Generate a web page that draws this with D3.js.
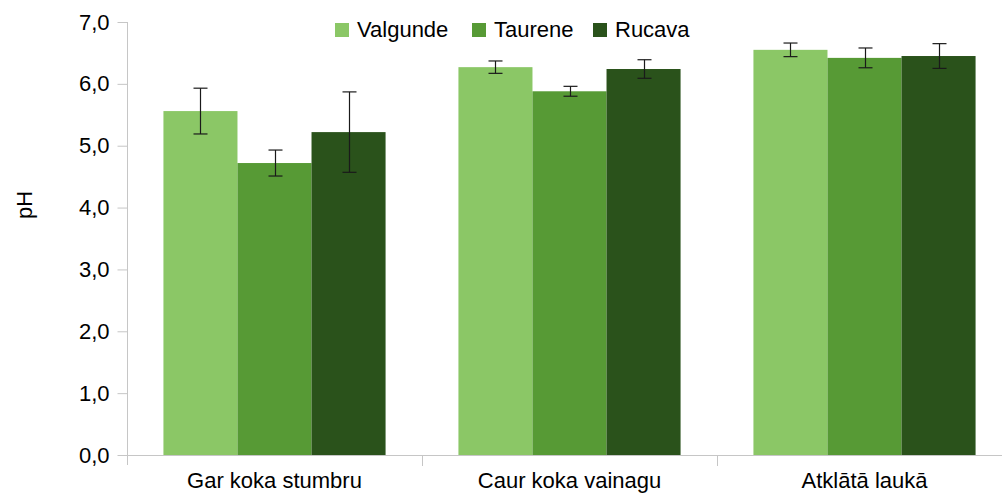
<!DOCTYPE html>
<html><head><meta charset="utf-8">
<script src="https://cdn.jsdelivr.net/npm/d3@7"></script>
<style>
body{margin:0;background:#fff;}
svg{display:block;font-family:"Liberation Sans",Arial,sans-serif;}
</style></head>
<body><svg id="c" width="1002" height="495"></svg>
<script>
const categories = ["Gar koka stumbru", "Caur koka vainagu", "Atklātā laukā"];
const seriesNames = ["Valgunde", "Taurene", "Rucava"];
const seriesColors = ["#8bc766", "#579a35", "#2a521b"];
const valgunde = [5.56, 6.27, 6.55];
const taurene = [4.72, 5.88, 6.42];
const rucava = [5.22, 6.24, 6.45];
const valgundeErr = [0.37, 0.10, 0.11];
const taureneErr = [0.21, 0.08, 0.16];
const rucavaErr = [0.65, 0.15, 0.20];
const yTicks = [0, 1, 2, 3, 4, 5, 6, 7];
const yLabel = "pH";

(function () {
const values = [valgunde, taurene, rucava];
const errs = [valgundeErr, taureneErr, rucavaErr];

const svg = d3.select("#c");
const mLeft = 127, mRight = 1012, mTop = 22, mBottom = 455;

const y = d3.scaleLinear().domain([0, 7]).range([mBottom, mTop]);
const x0 = d3.scaleBand().domain(categories).range([mLeft, mRight]).paddingInner(0.247).paddingOuter(0.1235);
const xDiv = d3.scaleBand().domain(categories).range([mLeft, mRight]).padding(0);
const x1 = d3.scaleBand().domain(seriesNames).range([0, x0.bandwidth()]).padding(0);

const axisColor = "#c6c6c6";

// bars
categories.forEach((cat, ci) => {
  const g = svg.append("g").attr("transform", `translate(${x0(cat)},0)`);
  seriesNames.forEach((s, si) => {
    const v = values[si][ci];
    g.append("rect").attr("x", x1(s)).attr("y", y(v))
      .attr("width", x1.bandwidth()).attr("height", y(0) - y(v))
      .attr("fill", seriesColors[si]);
  });
});

// error bars
categories.forEach((cat, ci) => {
  seriesNames.forEach((s, si) => {
    const v = values[si][ci], e = errs[si][ci];
    const cx = Math.round(x0(cat) + x1(s) + x1.bandwidth() / 2) + 0.5;
    const g = svg.append("g").attr("stroke", "#1a1a1a").attr("stroke-width", 1.2);
    g.append("line").attr("x1", cx).attr("x2", cx).attr("y1", y(v + e)).attr("y2", y(v - e));
    g.append("line").attr("x1", cx - 7).attr("x2", cx + 7).attr("y1", y(v + e)).attr("y2", y(v + e));
    g.append("line").attr("x1", cx - 7).attr("x2", cx + 7).attr("y1", y(v - e)).attr("y2", y(v - e));
  });
});

// y axis
const yAxis = d3.axisLeft(y).tickValues(yTicks).tickSize(10).tickPadding(8)
  .tickFormat(d => d3.format(".1f")(d).replace(".", ","));
const ya = svg.append("g").attr("transform", `translate(${mLeft + 0.5},0)`).call(yAxis);
ya.select(".domain").remove();
ya.selectAll(".tick line").attr("stroke", axisColor);
ya.selectAll(".tick text").attr("font-size", 22).attr("fill", "#000").attr("font-family", "Liberation Sans, Arial, sans-serif");
svg.append("line").attr("x1", mLeft + 0.5).attr("x2", mLeft + 0.5).attr("y1", mTop).attr("y2", mBottom + 10)
  .attr("stroke", axisColor);

// x axis
svg.append("line").attr("x1", mLeft).attr("x2", 1002).attr("y1", mBottom + 0.5).attr("y2", mBottom + 0.5).attr("stroke", axisColor);
categories.slice(1).forEach(cat => {
  const xx = Math.round(xDiv(cat)) + 0.5;
  svg.append("line").attr("x1", xx).attr("x2", xx).attr("y1", mBottom).attr("y2", mBottom + 11).attr("stroke", axisColor);
});
const xAxis = d3.axisBottom(x0).tickSize(0).tickPadding(17);
const xa = svg.append("g").attr("transform", `translate(0,${mBottom})`).call(xAxis);
xa.select(".domain").remove();
xa.selectAll(".tick text").attr("font-size", 22).attr("fill", "#000").attr("font-family", "Liberation Sans, Arial, sans-serif");

// y label
svg.append("text").attr("transform", "translate(32,205) rotate(-90)")
  .attr("text-anchor", "middle").attr("font-size", 22).text(yLabel);

// legend
const legX = [335, 472, 593];
seriesNames.forEach((s, i) => {
  svg.append("rect").attr("x", legX[i]).attr("y", 23).attr("width", 14).attr("height", 14).attr("fill", seriesColors[i]);
  svg.append("text").attr("x", legX[i] + 22).attr("y", 37).attr("font-size", 22).attr("fill", "#000").text(s);
});
})();
</script></body></html>
